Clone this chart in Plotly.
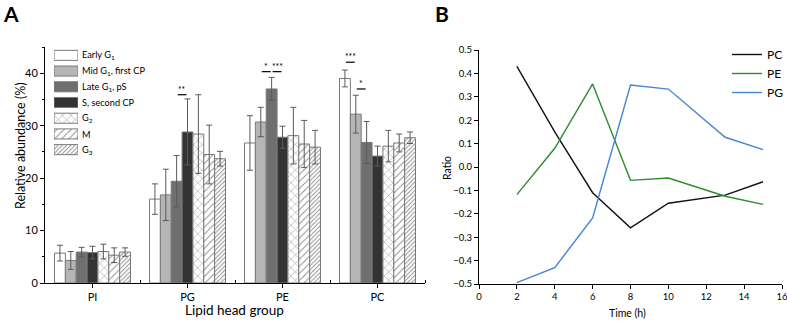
import plotly.graph_objects as go

# ---------------- data ----------------
groups = ["PI", "PG", "PE", "PC"]
phases = ["Early G<sub>1</sub>", "Mid G<sub>1</sub>, first CP", "Late G<sub>1</sub>, pS",
          "S, second CP", "G<sub>2</sub>", "M", "G<sub>3</sub>"]

early_g1 = [5.7, 16.0, 26.7, 39.0]
mid_g1 = [4.3, 16.8, 30.7, 32.2]
late_g1 = [5.9, 19.4, 37.0, 26.8]
s_phase = [5.8, 28.8, 27.8, 24.2]
g2 = [6.0, 28.4, 28.1, 26.1]
m_phase = [5.3, 24.5, 26.5, 26.7]
g3 = [5.9, 23.7, 25.9, 27.7]

early_g1_err = [1.5, 2.9, 5.2, 1.6]
mid_g1_err = [1.7, 4.9, 2.8, 3.6]
late_g1_err = [0.9, 4.9, 2.2, 4.0]
s_phase_err = [1.2, 6.3, 2.1, 1.9]
g2_err = [1.4, 7.5, 5.4, 3.0]
m_phase_err = [1.4, 5.6, 4.5, 1.7]
g3_err = [0.8, 1.4, 3.2, 1.1]

# significance: (group index, bar i, bar j, line level, label)
sig_group = [1, 2, 2, 3, 3]
sig_bar_a = [2, 1, 2, 0, 1]
sig_bar_b = [3, 2, 3, 1, 2]
sig_level = [35.9, 40.3, 40.3, 42.1, 37.0]
sig_label = ["**", "*", "***", "***", "*"]

time_h = [2, 4, 6, 8, 10, 13, 15]
ratio_pc = [0.43, 0.15, -0.11, -0.26, -0.155, -0.12, -0.063]
ratio_pe = [-0.118, 0.08, 0.355, -0.057, -0.047, -0.125, -0.16]
ratio_pg = [-0.494, -0.43, -0.218, 0.35, 0.333, 0.127, 0.074]

# ---------------- styles ----------------
W, H = 787, 323
FONT = "Lato"
values = [early_g1, mid_g1, late_g1, s_phase, g2, m_phase, g3]
errors = [early_g1_err, mid_g1_err, late_g1_err, s_phase_err, g2_err, m_phase_err, g3_err]
fills = ["#ffffff", "#b5b5b5", "#6f6f6f", "#333333", "#ffffff", "#ffffff", "#ffffff"]
pshape = ["", "", "", "", "x", "/", "/"]
psize = [6, 6, 6, 6, 6, 5, 3]
psolid = [0.2, 0.2, 0.2, 0.2, 0.15, 0.18, 0.3]


def px_x(p):
    return p / W


def px_y(p):
    return 1 - p / H


def marker_for(i):
    return dict(color=fills[i], line=dict(color="#7a7a7a", width=1),
                pattern=dict(shape=pshape[i], size=psize[i], solidity=psolid[i],
                             fgcolor="#8a8a8a", bgcolor=fills[i], fillmode="replace"))


fig = go.Figure()

n = len(values)
bargap = 0.2
bw = (1 - bargap) / n

for i in range(n):
    fig.add_trace(go.Bar(
        x=list(range(len(groups))), y=values[i], name=phases[i],
        xaxis="x", yaxis="y", showlegend=False, offsetgroup=str(i),
        marker=marker_for(i),
        error_y=dict(type="data", array=errors[i], color="#5a5a5a", thickness=1, width=3),
    ))

# legend swatches for panel A drawn as bars on a hidden axis
for i in range(n):
    fig.add_trace(go.Bar(
        x=[1], y=[i], orientation="h", xaxis="x3", yaxis="y3",
        showlegend=False, hoverinfo="skip", width=0.64, marker=marker_for(i),
    ))

# significance bars and stars
pad = 1.0 / 95.0  # about one pixel in category units
for g, a, b, lev, lab in zip(sig_group, sig_bar_a, sig_bar_b, sig_level, sig_label):
    xa = g - (1 - bargap) / 2 + (a + 0.5) * bw + pad
    xb = g - (1 - bargap) / 2 + (b + 0.5) * bw - pad
    fig.add_shape(type="line", xref="x", yref="y", x0=xa, x1=xb, y0=lev, y1=lev,
                  line=dict(color="#000", width=1.2))
    fig.add_annotation(xref="x", yref="y", x=(xa + xb) / 2, y=lev, text=lab, showarrow=False,
                       yanchor="bottom", yshift=-2, font=dict(family=FONT, size=8.5, color="#000"))

# panel B lines
line_names = ["PC", "PE", "PG"]
line_vals = [ratio_pc, ratio_pe, ratio_pg]
line_cols = ["#111111", "#2e8b2e", "#4384d8"]
for nm, v, c in zip(line_names, line_vals, line_cols):
    fig.add_trace(go.Scatter(x=time_h, y=v, mode="lines", name=nm, xaxis="x2", yaxis="y2",
                             line=dict(color=c, width=1.4), legend="legend2"))


def axis_common(size):
    return dict(showline=True, linecolor="#000", linewidth=1, ticks="outside", ticklen=4,
                tickcolor="#000", showgrid=False, zeroline=False, automargin=False,
                ticklabeloverflow="allow",
                tickfont=dict(family=FONT, size=size, color="#000"))


fig.update_layout(
    width=W, height=H, margin=dict(l=0, r=0, t=0, b=0, autoexpand=False),
    paper_bgcolor="#fff", plot_bgcolor="rgba(0,0,0,0)",
    barmode="group", bargap=bargap, bargroupgap=0,
    font=dict(family=FONT, color="#000"),
    xaxis=dict(domain=[px_x(45), px_x(425)], range=[-0.5, 3.5], anchor="y",
               tickvals=list(range(len(groups))), ticktext=groups,
               minor=dict(tickvals=[0.5, 1.5, 2.5, 3.5], ticks="inside", ticklen=3, tickcolor="#000"),
               **axis_common(11)),
    yaxis=dict(domain=[px_y(283), px_y(47)], range=[0, 45], anchor="x", dtick=10,
               minor=dict(dtick=5, ticks="outside", ticklen=2, tickcolor="#000"),
               **axis_common(11)),
    xaxis2=dict(domain=[px_x(479), px_x(782)], range=[0, 16], anchor="y2", dtick=2,
                **axis_common(9.5)),
    yaxis2=dict(domain=[px_y(284), px_y(50)], range=[-0.5, 0.5], anchor="x2", dtick=0.1,
                tickformat=".1f", **axis_common(9.5)),
    xaxis3=dict(domain=[px_x(54), px_x(78)], range=[0, 1], anchor="y3", visible=False),
    yaxis3=dict(domain=[px_y(157.5), px_y(47.5)], range=[n - 0.5, -0.5], anchor="x3", visible=False),
    legend2=dict(x=px_x(727), y=px_y(40), xanchor="left", yanchor="top",
                 bgcolor="rgba(0,0,0,0)", font=dict(family=FONT, size=12, color="#000"),
                 tracegroupgap=0, itemwidth=30),
    showlegend=True,
)

# legend labels for panel A
row0, row_step = 55.0, 15.8
for i, lab in enumerate(phases):
    fig.add_annotation(xref="paper", yref="paper", x=px_x(80), y=px_y(row0 + i * row_step),
                       text=lab, showarrow=False, xanchor="left", yanchor="middle",
                       font=dict(family=FONT, size=9.2, color="#000"))

# panel letters and axis titles
fig.add_annotation(xref="paper", yref="paper", x=px_x(1), y=px_y(13), text="<b>A</b>",
                   showarrow=False, xanchor="left", yanchor="middle",
                   font=dict(family=FONT, size=21, color="#000"))
fig.add_annotation(xref="paper", yref="paper", x=px_x(433), y=px_y(13), text="<b>B</b>",
                   showarrow=False, xanchor="left", yanchor="middle",
                   font=dict(family=FONT, size=21, color="#000"))
fig.add_annotation(xref="paper", yref="paper", x=px_x(20), y=px_y(146), text="Relative abundance (%)",
                   showarrow=False, textangle=-90, xanchor="center", yanchor="middle",
                   font=dict(family=FONT, size=12.5, color="#000"))
fig.add_annotation(xref="paper", yref="paper", x=px_x(235), y=px_y(310), text="Lipid head group",
                   showarrow=False, xanchor="center", yanchor="middle",
                   font=dict(family=FONT, size=13.5, color="#000"))
fig.add_annotation(xref="paper", yref="paper", x=px_x(447), y=px_y(168), text="Ratio",
                   showarrow=False, textangle=-90, xanchor="center", yanchor="middle",
                   font=dict(family=FONT, size=10.5, color="#000"))
fig.add_annotation(xref="paper", yref="paper", x=px_x(627), y=px_y(313), text="Time (h)",
                   showarrow=False, xanchor="center", yanchor="middle",
                   font=dict(family=FONT, size=10.5, color="#000"))

fig.write_html("out.html", config={"displayModeBar": False},
               post_script="document.body.style.margin='0';document.body.style.overflow='hidden';")
